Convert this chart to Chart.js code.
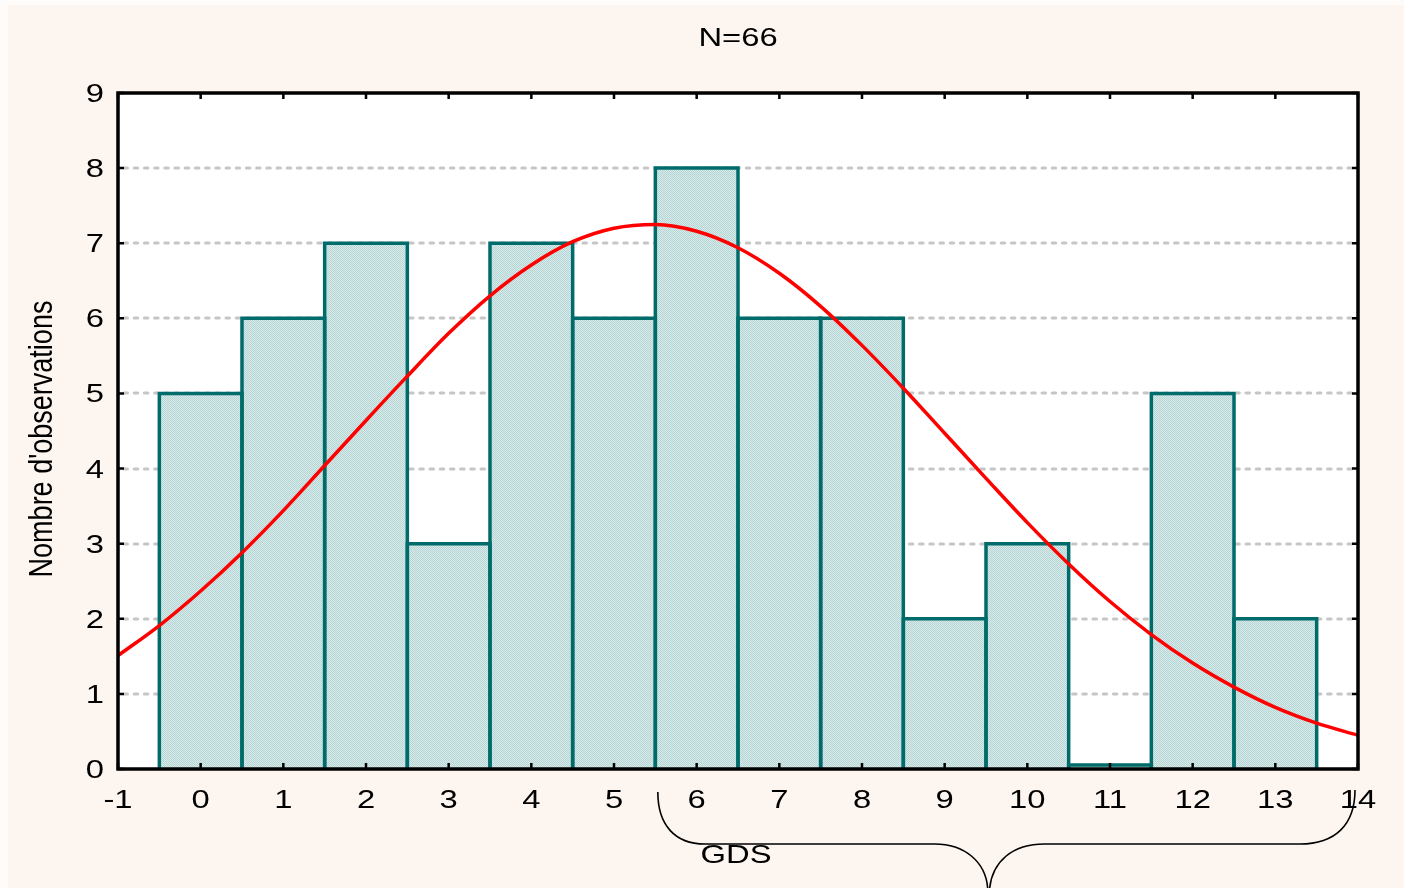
<!DOCTYPE html>
<html>
<head>
<meta charset="utf-8">
<script src="https://cdn.jsdelivr.net/npm/chart.js@4/dist/chart.umd.min.js"></script>
<style>
  html, body { margin: 0; padding: 0; background: #fdf6f0; }
  #wrap { width: 1404px; height: 888px; }
</style>
</head>
<body>
<div id="wrap"><canvas id="c" width="1404" height="888"></canvas></div>
<script>
// ---- data ----
const chartTitle = 'N=66';
const xTitle = 'GDS';
const yTitle = "Nombre d'observations";
const categories = [0, 1, 2, 3, 4, 5, 6, 7, 8, 9, 10, 11, 12, 13];
const counts = [5, 6, 7, 3, 7, 6, 8, 6, 6, 2, 3, 0, 5, 2];
const curveX = [-1, -0.5, 0, 0.5, 1, 1.5, 2, 2.5, 3, 3.5, 4, 4.5, 5, 5.5, 6, 6.5, 7, 7.5, 8, 8.5, 9, 9.5, 10, 10.5, 11, 11.5, 12, 12.5, 13, 13.5, 14];
const curveY = [1.51, 1.91, 2.37, 2.88, 3.44, 4.04, 4.64, 5.23, 5.80, 6.30, 6.71, 7.02, 7.20, 7.25, 7.16, 6.94, 6.60, 6.16, 5.64, 5.07, 4.47, 3.87, 3.28, 2.73, 2.23, 1.79, 1.41, 1.09, 0.82, 0.61, 0.45];
const xTickLabels = ['-1', '0', '1', '2', '3', '4', '5', '6', '7', '8', '9', '10', '11', '12', '13', '14'];
const yTickLabels = ['0', '1', '2', '3', '4', '5', '6', '7', '8', '9'];
const braceRange = [5.53, 9.52, 14];

// ---- styling helpers ----
const FONT = '"Liberation Sans", Arial, sans-serif';
const SX = 1.26;
const BAR_EDGE = '#006b6b';

function makePattern() {
  const p = document.createElement('canvas');
  p.width = 4; p.height = 4;
  const g = p.getContext('2d');
  g.fillStyle = '#d6eae9';
  g.fillRect(0, 0, 4, 4);
  g.fillStyle = '#b6d5d4';
  for (let i = 0; i < 4; i++) {
    g.fillRect(i, i, 1, 1);
    g.fillRect((i + 2) % 4, i, 1, 1);
  }
  return document.getElementById('c').getContext('2d').createPattern(p, 'repeat');
}

function drawText(ctx, text, x, y, align, size, sx, rotate) {
  ctx.save();
  ctx.translate(x, y);
  ctx.scale(sx, 1);
  if (rotate) ctx.rotate(-Math.PI / 2);
  ctx.font = size + 'px ' + FONT;
  ctx.fillStyle = '#000';
  ctx.textAlign = align;
  ctx.textBaseline = 'alphabetic';
  ctx.fillText(text, 0, 0);
  ctx.restore();
}

const decor = {
  id: 'decor',
  beforeDraw(chart) {
    const ctx = chart.ctx, a = chart.chartArea, y = chart.scales.y;
    ctx.save();
    ctx.fillStyle = '#fefcfa';
    ctx.fillRect(0, 0, chart.width, chart.height);
    ctx.fillStyle = '#fdf6f0';
    ctx.fillRect(8, 5, chart.width - 8, chart.height - 5);
    ctx.fillStyle = '#ffffff';
    ctx.fillRect(a.left, a.top, a.right - a.left, a.bottom - a.top);
    // dashed grid lines
    ctx.strokeStyle = '#c6c6c6';
    ctx.lineWidth = 3;
    ctx.lineCap = 'round';
    ctx.setLineDash([3.5, 6.7]);
    yTickLabels.forEach((t) => {
      const v = Number(t);
      if (v <= y.min || v >= y.max) return;
      const py = Math.round(y.getPixelForValue(v));
      ctx.beginPath();
      ctx.moveTo(a.left + 6, py);
      ctx.lineTo(a.right - 4, py);
      ctx.stroke();
    });
    ctx.restore();
  },
  afterDatasetDraw(chart, args) {
    if (args.meta.type !== 'bar') return;
    const ctx = chart.ctx, a = chart.chartArea;
    ctx.save();
    ctx.beginPath();
    ctx.rect(a.left, a.top, a.right - a.left, a.bottom - a.top);
    ctx.clip();
    ctx.strokeStyle = BAR_EDGE;
    ctx.lineWidth = 3.5;
    ctx.lineJoin = 'miter';
    args.meta.data.forEach((el) => {
      const p = el.getProps(['x', 'y', 'base', 'width'], true);
      const l = p.x - p.width / 2, r = p.x + p.width / 2;
      ctx.beginPath();
      ctx.moveTo(l, p.base);
      ctx.lineTo(l, p.y);
      ctx.lineTo(r, p.y);
      ctx.lineTo(r, p.base);
      ctx.stroke();
    });
    ctx.restore();
  },
  afterDatasetsDraw(chart) {
    const ctx = chart.ctx, a = chart.chartArea, x = chart.scales.x, y = chart.scales.y;
    ctx.save();
    ctx.strokeStyle = '#000';
    ctx.lineCap = 'butt';
    ctx.setLineDash([]);
    ctx.lineWidth = 2.5;
    const tl = 6;
    xTickLabels.forEach((t) => {
      const px = x.getPixelForValue(Number(t));
      ctx.beginPath();
      ctx.moveTo(px, a.bottom); ctx.lineTo(px, a.bottom - tl);
      ctx.moveTo(px, a.top); ctx.lineTo(px, a.top + tl);
      ctx.stroke();
    });
    yTickLabels.forEach((t) => {
      const py = y.getPixelForValue(Number(t));
      ctx.beginPath();
      ctx.moveTo(a.left, py); ctx.lineTo(a.left + tl, py);
      ctx.moveTo(a.right, py); ctx.lineTo(a.right - tl, py);
      ctx.stroke();
    });
    ctx.lineWidth = 3.5;
    ctx.strokeRect(a.left, a.top, a.right - a.left, a.bottom - a.top);
    ctx.restore();
  },
  afterDraw(chart) {
    const ctx = chart.ctx, a = chart.chartArea, x = chart.scales.x, y = chart.scales.y;
    const cx = (a.left + a.right) / 2;
    // tick labels
    xTickLabels.forEach((t) => {
      drawText(ctx, t, x.getPixelForValue(Number(t)), a.bottom + 39, 'center', 26, SX, false);
    });
    yTickLabels.forEach((t) => {
      drawText(ctx, t, a.left - 14, y.getPixelForValue(Number(t)) + 9, 'right', 26, SX, false);
    });
    // titles
    drawText(ctx, chartTitle, cx, 46, 'center', 26, SX, false);
    drawText(ctx, xTitle, cx - 2, a.bottom + 94, 'center', 26, SX, false);
    drawText(ctx, yTitle, 52, (a.top + a.bottom) / 2 + 8, 'center', 27, 1.24, true);
    // brace annotation
    const x0 = x.getPixelForValue(braceRange[0]);
    const xm = x.getPixelForValue(braceRange[1]);
    const x1 = x.getPixelForValue(braceRange[2]) - 3;
    const yTop = a.bottom + 23, yMid = a.bottom + 75, yTip = chart.height;
    ctx.save();
    ctx.strokeStyle = '#000';
    ctx.lineWidth = 1.6;
    ctx.beginPath();
    ctx.moveTo(x0, yTop);
    ctx.bezierCurveTo(x0, yTop + 33, x0 + 17, yMid, x0 + 47, yMid);
    ctx.lineTo(xm - 53, yMid);
    ctx.bezierCurveTo(xm - 23, yMid, xm - 2, yMid + 18, xm, yTip);
    ctx.moveTo(xm + 2, yTip);
    ctx.bezierCurveTo(xm + 5, yMid + 18, xm + 24, yMid, xm + 57, yMid);
    ctx.lineTo(x1 - 55, yMid);
    ctx.bezierCurveTo(x1 - 20, yMid, x1, yMid - 19, x1, yTop - 2);
    ctx.stroke();
    ctx.restore();
  }
};

const barData = categories.map((c, i) => ({ x: c, y: counts[i] }));
const curveData = curveX.map((v, i) => ({ x: v, y: curveY[i] }));

new Chart(document.getElementById('c'), {
  type: 'bar',
  data: {
    datasets: [
      {
        type: 'line',
        data: curveData,
        borderColor: '#ff0000',
        borderWidth: 3.5,
        pointRadius: 0,
        fill: false,
        tension: 0.4,
        cubicInterpolationMode: 'monotone',
        order: 0
      },
      {
        type: 'bar',
        data: barData,
        backgroundColor: makePattern(),
        borderWidth: 0,
        inflateAmount: 0,
        barPercentage: 1,
        categoryPercentage: 1,
        minBarLength: 4,
        order: 1
      }
    ]
  },
  options: {
    responsive: false,
    animation: false,
    devicePixelRatio: 1,
    layout: { padding: { top: 93, right: 46, left: 0, bottom: 0 } },
    plugins: { legend: { display: false }, tooltip: { enabled: false }, title: { display: false } },
    scales: {
      x: {
        type: 'linear', min: -1, max: 14, offset: false,
        ticks: { stepSize: 1, display: false },
        grid: { display: false, offset: false },
        border: { display: false },
        afterFit(s) { s.height = 119; }
      },
      y: {
        type: 'linear', min: 0, max: 9,
        ticks: { stepSize: 1, display: false },
        grid: { display: false },
        border: { display: false },
        afterFit(s) { s.width = 118; }
      }
    }
  },
  plugins: [decor]
});
</script>
</body>
</html>
